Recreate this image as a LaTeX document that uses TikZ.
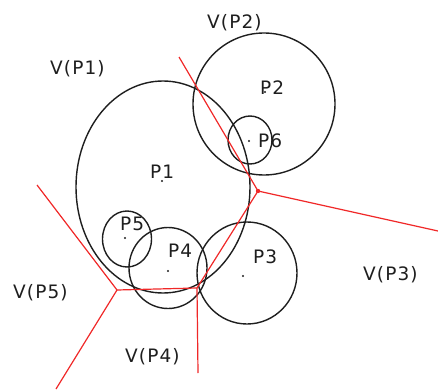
\documentclass[tikz,border=0pt]{standalone}
\usepackage{fontspec}
\setmainfont{DejaVu Sans}[LetterSpace=6]
\usetikzlibrary{shapes.geometric}
\definecolor{vred}{RGB}{240,40,40}
\definecolor{ink}{RGB}{30,30,30}
\begin{document}
\begin{tikzpicture}[x=1pt,y=-1pt,
  disc/.style={ellipse,draw=ink,line width=1.4pt,inner sep=0pt,minimum width=#1},
  site/.style={circle,fill=ink,inner sep=0pt,minimum size=2.2pt},
  edge/.style={draw=vred,line width=1.2pt},
  lbl/.style={anchor=base west,inner sep=0pt,text=ink,font=\fontsize{18.5}{20}\selectfont}]
\useasboundingbox (0,0) rectangle (438,390);

% empty circles around the sites
\node[disc=174pt,minimum height=212pt] (c1) at (163,187) {};
\node[disc=142pt,minimum height=142pt] (c2) at (264,104) {};
\node[disc=100pt,minimum height=102pt] (c3) at (247,273) {};
\node[disc=78pt,minimum height=81pt] (c4) at (168,268) {};
\node[disc=49pt,minimum height=56pt] (c5) at (127,239) {};
\node[disc=44pt,minimum height=48pt] (c6) at (250,140) {};

% sites
\node[site] (p1) at (162,181) {};
\node[site] (p2) at (265,92) {};
\node[site] (p3) at (243,276) {};
\node[site] (p4) at (168,271) {};
\node[site] (p5) at (125,238) {};
\node[site] (p6) at (249,141) {};

% Voronoi vertices and open ends
\coordinate (va) at (258,191);
\coordinate (vb) at (197,288);
\coordinate (vc) at (117,290);
\coordinate (ea) at (179,57);
\coordinate (eb) at (438,231);
\coordinate (ec) at (198,373);
\coordinate (ed) at (37,185);
\coordinate (ee) at (56,389);

% Voronoi edges
\draw[edge] (ea) -- (va) -- (eb);
\draw[edge] (va) -- (vb) -- (ec);
\draw[edge] (vb) -- (vc) -- (ed);
\draw[edge] (vc) -- (ee);
\fill[vred] (va) circle (2.2pt);

% labels
\node[lbl] (l1) at (150,178) {P1};
\node[lbl] (l2) at (260,95) {P2};
\node[lbl] (l3) at (253,263) {P3};
\node[lbl] (l4) at (168,257) {P4};
\node[lbl] (l5) at (120,230) {P5};
\node[lbl] (l6) at (258,147) {P6};
\node[lbl] (r1) at (50,75) {V(P1)};
\node[lbl] (r2) at (207,29) {V(P2)};
\node[lbl] (r3) at (363,280) {V(P3)};
\node[lbl] (r4) at (125,362) {V(P4)};
\node[lbl] (r5) at (13,298) {V(P5)};
\end{tikzpicture}
\end{document}
